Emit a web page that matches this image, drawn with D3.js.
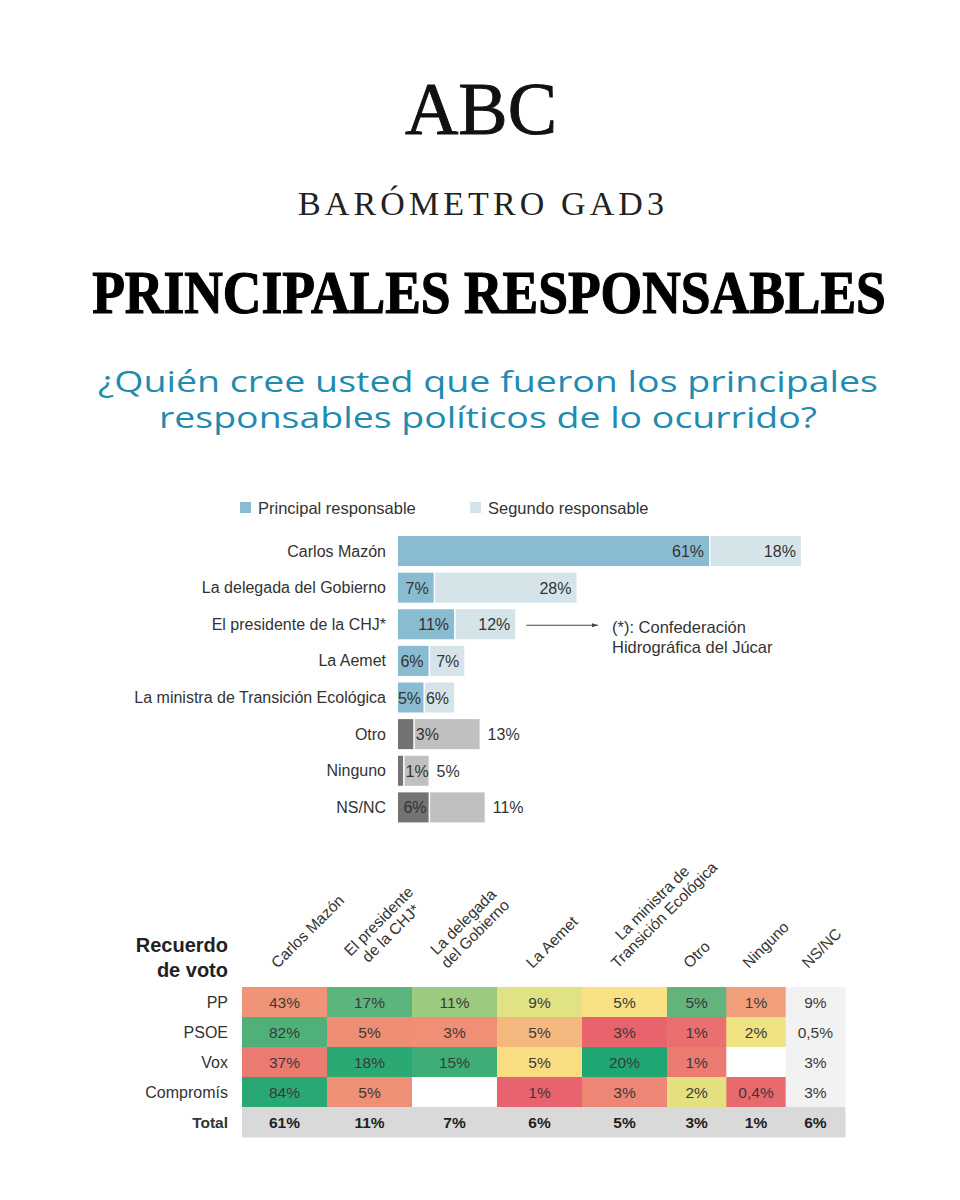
<!DOCTYPE html>
<html><head><meta charset="utf-8">
<script src="https://cdn.jsdelivr.net/npm/d3@7"></script>
<style>body{margin:0;background:#fff} svg{display:block}</style>
</head><body>
<svg id="c" width="960" height="1200"></svg>
<script>
// ---------- DATA ----------
const categories = ["Carlos Mazón","La delegada del Gobierno","El presidente de la CHJ*","La Aemet","La ministra de Transición Ecológica","Otro","Ninguno","NS/NC"];
const principal = [61,7,11,6,5,3,1,6];
const segundo   = [18,28,12,7,6,13,5,11];
const neutralCategories = ["Otro","Ninguno","NS/NC"];
const legendLabels = ["Principal responsable","Segundo responsable"];
const footnoteLines = ["(*): Confederación","Hidrográfica del Júcar"];

const heatColumns = ["Carlos Mazón","El presidente de la CHJ*","La delegada del Gobierno","La Aemet","La ministra de Transición Ecológica","Otro","Ninguno","NS/NC"];
const heatColumnLines = [["Carlos Mazón"],["El presidente","de la CHJ*"],["La delegada","del Gobierno"],["La Aemet"],["La ministra de","Transición Ecológica"],["Otro"],["Ninguno"],["NS/NC"]];
const heatRows = ["PP","PSOE","Vox","Compromís","Total"];
const valuesPP        = [43,17,11,9,5,5,1,9];
const valuesPSOE      = [82,5,3,5,3,1,2,0.5];
const valuesVox       = [37,18,15,5,20,1,null,3];
const valuesCompromis = [84,5,null,1,3,2,0.4,3];
const valuesTotal     = [61,11,7,6,5,3,1,6];

// ---------- STYLE ----------
const C = {blue:"#8abcd1", blueLight:"#d5e4e9", dark:"#737373", grey:"#c0c0c0", text:"#333"};
const heatFill = [
  ["#ef9479","#5cb57d","#9ccb7f","#e0e283","#f9e283","#62b47c","#f19f7b"],
  ["#4fb179","#ee8e75","#ee8f76","#f5b97f","#e8636c","#ea6f6f","#efe283"],
  ["#eb7a71","#2ba973","#3fad76","#fadc82","#20a672","#eb7a71",null],
  ["#2aa873","#ee9076",null,"#e8636d","#ed8674","#e2e07f","#e96a6e"]
];
const SANS = "'Liberation Sans', Arial, sans-serif";
const SERIF = "'Liberation Serif', 'Times New Roman', serif";

const svg = d3.select("#c");
const fmt = v => String(v).replace(".", ",") + "%";

// ---------- HEADER ----------
svg.append("text").attr("x",481).attr("y",134).attr("text-anchor","middle")
  .attr("font-family",SERIF).attr("font-size",74).attr("fill","#111")
  .attr("stroke","#111").attr("stroke-width",0.9).text("ABC");
svg.append("text").attr("x",481).attr("y",215).attr("text-anchor","middle")
  .attr("font-family",SERIF).attr("font-size",34).attr("fill","#222")
  .attr("textLength",366).attr("lengthAdjust","spacing").text("BARÓMETRO GAD3");
// main title, horizontally condensed to the reference width
const title = svg.append("text").attr("text-anchor","middle")
  .attr("font-family",SERIF).attr("font-weight","bold").attr("font-size",62).attr("fill","#000")
  .attr("stroke","#000").attr("stroke-width",1.2).text("PRINCIPALES RESPONSABLES");
const tl = title.node().getComputedTextLength();
title.attr("transform",`translate(489,313) scale(${794/tl},1)`);

const sub = [["¿Quién cree usted que fueron los principales",392,780],["responsables políticos de lo ocurrido?",428,658]];
sub.forEach(([t,y,w]) => svg.append("text").attr("x",488).attr("y",y).attr("text-anchor","middle")
  .attr("font-family","'Open Sans', sans-serif").attr("font-size",30).attr("fill","#1f8bb0")
  .attr("textLength",w).attr("lengthAdjust","spacingAndGlyphs").text(t));

// ---------- BAR CHART ----------
const x = d3.scaleLinear().domain([0,100]).range([398,908]);
const y = d3.scaleBand().domain(categories).range([532.7,825.7]).paddingInner(0.18).paddingOuter(0.09);
const bw = y.bandwidth();
const rows = categories.map((c,i)=>({c, p:principal[i], s:segundo[i], neutral:neutralCategories.includes(c)}));

// legend
[[240,258,C.blue],[470,488,C.blueLight]].forEach(([rx,tx,col],i)=>{
  svg.append("rect").attr("x",rx).attr("y",502).attr("width",11).attr("height",11).attr("fill",col);
  svg.append("text").attr("x",tx).attr("y",513.5).attr("font-family",SANS).attr("font-size",16.5)
    .attr("fill",C.text).text(legendLabels[i]);
});

const bars = svg.append("g");
const g = bars.selectAll("g").data(rows).join("g");
g.append("text").attr("x",386).attr("y",d=>y(d.c)+bw/2+5.5).attr("text-anchor","end")
  .attr("font-family",SANS).attr("font-size",16).attr("fill",C.text).text(d=>d.c);
g.append("rect").attr("x",x(0)).attr("y",d=>y(d.c)).attr("height",bw)
  .attr("width",d=>x(d.p)-x(0)).attr("fill",d=>d.neutral?C.dark:C.blue);
g.append("rect").attr("x",d=>x(d.p)+1.5).attr("y",d=>y(d.c)).attr("height",bw)
  .attr("width",d=>x(d.p+d.s)-x(d.p)-1.5).attr("fill",d=>d.neutral?C.grey:C.blueLight);
// principal labels
g.append("text").attr("y",d=>y(d.c)+bw/2+6).attr("font-family",SANS).attr("font-size",16).attr("fill",C.text)
  .each(function(d){
    const t = d3.select(this).text(fmt(d.p));
    const w = x(d.p)-x(0);
    if (d.neutral && w < 26) t.attr("x",x(d.p)+2.5).attr("text-anchor","start");
    else t.attr("x",Math.max(x(d.p)-(d.neutral?2:5), x(0)+23)).attr("text-anchor","end");
  });
// second labels
g.append("text").attr("y",d=>y(d.c)+bw/2+6).attr("font-family",SANS).attr("font-size",16).attr("fill",C.text)
  .attr("x",d=>d.neutral? x(d.p+d.s)+8 : x(d.p+d.s)-5)
  .attr("text-anchor",d=>d.neutral?"start":"end").text(d=>fmt(d.s));

// arrow + footnote
svg.append("defs").append("marker").attr("id","ah").attr("viewBox","0 0 10 10").attr("refX",10).attr("refY",5)
  .attr("markerWidth",6).attr("markerHeight",6).attr("orient","auto")
  .append("path").attr("d","M0,1.5 L10,5 L0,8.5 Z").attr("fill","#444");
const chj = rows[2];
const ay = y(chj.c)+bw/2+1;
svg.append("line").attr("x1",x(chj.p+chj.s)+11).attr("x2",598).attr("y1",ay).attr("y2",ay)
  .attr("stroke","#444").attr("stroke-width",1).attr("marker-end","url(#ah)");
footnoteLines.forEach((t,i)=>svg.append("text").attr("x",612).attr("y",633+i*20)
  .attr("font-family",SANS).attr("font-size",16.5).attr("fill",C.text).text(t));

// ---------- HEATMAP ----------
const heatValues = [valuesPP, valuesPSOE, valuesVox, valuesCompromis, valuesTotal];
const wideCols = heatColumns.slice(0,5), narrowCols = heatColumns.slice(5);
const xw = d3.scaleBand().domain(wideCols).range([242,667]);
const xn = d3.scaleBand().domain(narrowCols).range([667,845]);
const cx = c => wideCols.includes(c) ? xw(c) : xn(c);
const cw = c => wideCols.includes(c) ? xw.bandwidth() : xn.bandwidth();
const hy = d3.scaleBand().domain(heatRows).range([987,1137]);

const cells = [];
heatRows.forEach((r,ri)=>heatColumns.forEach((c,ci)=>{
  const v = heatValues[ri][ci];
  let fill;
  if (r==="Total") fill = "#d9d9d9";
  else if (c==="NS/NC") fill = "#f2f2f2";
  else fill = heatFill[ri][ci] || "#fff";
  cells.push({r,c,v,fill,total:r==="Total"});
}));
const hg = svg.append("g");
hg.selectAll("rect").data(cells).join("rect")
  .attr("x",d=>cx(d.c)).attr("y",d=>hy(d.r)).attr("width",d=>cw(d.c)+0.5).attr("height",hy.bandwidth()+0.5)
  .attr("fill",d=>d.fill);
hg.selectAll("text.v").data(cells.filter(d=>d.v!=null)).join("text").attr("class","v")
  .attr("x",d=>cx(d.c)+cw(d.c)/2).attr("y",d=>hy(d.r)+hy.bandwidth()/2+5.5).attr("text-anchor","middle")
  .attr("font-family",SANS).attr("font-size",15.5).attr("font-weight",d=>d.total?"bold":"normal")
  .attr("fill",d=>d.total?"#222":"#3a3a3a").text(d=>fmt(d.v));
hg.selectAll("text.r").data(heatRows).join("text").attr("class","r")
  .attr("x",228).attr("y",d=>hy(d)+hy.bandwidth()/2+5.5).attr("text-anchor","end")
  .attr("font-family",SANS).attr("font-size",d=>d==="Total"?15.5:16).attr("font-weight",d=>d==="Total"?"bold":"normal")
  .attr("fill",C.text).text(d=>d);
["Recuerdo","de voto"].forEach((t,i)=>svg.append("text").attr("x",228).attr("y",952+i*25).attr("text-anchor","end")
  .attr("font-family",SANS).attr("font-weight","bold").attr("font-size",20).attr("fill","#222").text(t));

// column headers
heatColumns.forEach((c,ci)=>{
  const lines = heatColumnLines[ci];
  const gg = svg.append("g").attr("transform",`translate(${cx(c)+cw(c)/2-7},969) rotate(-45)`);
  const ts = lines.map((l,i)=>gg.append("text").attr("font-family",SANS).attr("font-size",15.5)
    .attr("fill",C.text).attr("text-anchor","middle").attr("y",-(lines.length-1-i)*17).text(l));
  const maxLen = d3.max(ts, t=>t.node().getComputedTextLength());
  ts.forEach(t=>t.attr("x",maxLen/2));
});
</script>
</body></html>
